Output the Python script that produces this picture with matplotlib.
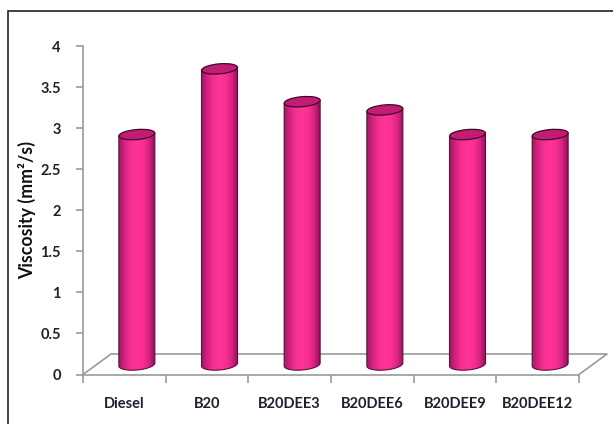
import numpy as np
import matplotlib
matplotlib.use("Agg")
import matplotlib.pyplot as plt
from matplotlib.colors import LinearSegmentedColormap
from matplotlib.patches import Ellipse, PathPatch, Rectangle
from matplotlib.path import Path
from matplotlib.transforms import Affine2D

categories = ["Diesel", "B20", "B20DEE3", "B20DEE6", "B20DEE9", "B20DEE12"]
viscosity = [2.8, 3.6, 3.2, 3.1, 2.8, 2.8]
y_ticks = [0, 0.5, 1, 1.5, 2, 2.5, 3, 3.5, 4]
y_tick_labels = ["0", "0.5", "1", "1.5", "2", "2.5", "3", "3.5", "4"]
y_label = "Viscosity (mm²/s)"

W, H = 613, 424
plt.rcParams["font.family"] = ["Lato", "DejaVu Sans"]
fig = plt.figure(figsize=(W / 100, H / 100), dpi=100)
fig.patch.set_facecolor("white")

# outer frame and the clipped text above it
fig.add_artist(Rectangle((7.5 / W, -0.02), (W + 10) / W, 1 - 10.5 / H + 0.02,
                         transform=fig.transFigure, fill=False, ec="#222222", lw=1.2))
fig.text(45 / W, 1 + 5 / H, "p", family="Liberation Serif", fontsize=12, va="baseline",
         ha="center", color="#222222")

ax = fig.add_axes([83 / W, (H - 374.5) / H, (579 - 83) / W, (374.5 - 46) / H])
ax.set_facecolor("none")
ax.set_xlim(-0.5, 5.5)
ax.set_ylim(0, 4)
px_x = 6 / (579 - 83)
px_y = 4 / (374.5 - 46)
dx, dy = 12.5 * px_x, 10 * px_y
back_x, back_y = 28 * px_x, 20.5 * px_y

for s in ["top", "right"]:
    ax.spines[s].set_visible(False)
for s in ["left", "bottom"]:
    ax.spines[s].set_color("#9a9a9a")
    ax.spines[s].set_linewidth(1.2)

ax.set_yticks(y_ticks, y_tick_labels, fontsize=10.5, fontweight="bold", color="#1f1f2e")
ax.tick_params(axis="y", length=5, width=1.2, color="#9a9a9a", pad=11)
ax.set_xticks(range(len(categories)), categories, fontsize=10.5, fontweight="bold", color="#1f1f2e")
ax.set_xticks(np.arange(-0.5, 6), minor=True)
ax.tick_params(axis="x", which="major", length=0, pad=16.5)
ax.tick_params(axis="x", which="minor", length=5.5, width=1.2, color="#9a9a9a")
ax.set_ylabel(y_label, fontsize=12.8, fontweight="bold", color="#111111")
ax.yaxis.set_label_coords(-47 / (579 - 83), 0.5, transform=ax.transAxes)

# floor of the 3-D box
ax.plot([-0.5, -0.5 + back_x, 5.5 + back_x, 5.5], [0, back_y, back_y, 0], color="#9a9a9a",
        lw=1.2, clip_on=False, zorder=1)

cmap = LinearSegmentedColormap.from_list(
    "cyl", ["#a81765", "#d92484", "#f7318f", "#ff3399", "#f7318f", "#d92484", "#8f1257"])
half_w = 18 * px_x
ell_h = 5.5 * px_y
t = np.linspace(np.pi, 2 * np.pi, 60)

for i, v in enumerate(viscosity):
    cx = i + dx
    top = v + dy
    bx = cx + half_w * np.cos(t)
    by = dy + ell_h * np.sin(t) + 1.5 * px_y * np.cos(t)
    xs = np.r_[bx, cx + half_w, cx - half_w, cx - half_w]
    ys = np.r_[by, top + 1.5 * px_y, top - 1.5 * px_y, by[0]]
    path = Path(np.c_[xs, ys], closed=False)
    body = PathPatch(path, fc="none", ec="#5a1038", lw=0.8, zorder=3, clip_on=False)
    ax.add_patch(body)
    im = ax.imshow(np.linspace(0, 1, 64)[None, :], cmap=cmap, aspect="auto", zorder=2,
                   extent=[cx - half_w, cx + half_w, dy - 2 * ell_h, top + ell_h],
                   interpolation="bilinear")
    im.set_clip_path(body)
    ax.add_patch(Ellipse((0, 0), 36, 10, angle=5, fc="#c21c74", ec="#3d0a28", lw=0.9, zorder=4,
                         clip_on=False,
                         transform=Affine2D().translate(*ax.transData.transform((cx, top)))))

ax.set_xlim(-0.5, 5.5)
ax.set_ylim(0, 4)
fig.savefig("out.png", dpi=100)
